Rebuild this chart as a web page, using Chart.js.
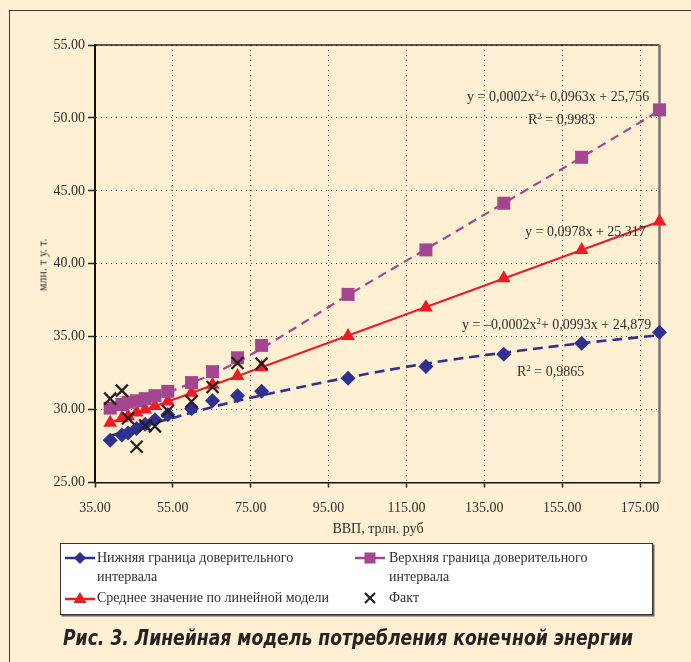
<!DOCTYPE html>
<html lang="ru">
<head>
<meta charset="utf-8">
<title>Линейная модель потребления конечной энергии</title>
<script src="https://cdn.jsdelivr.net/npm/chart.js@4.4.1/dist/chart.umd.min.js"></script>
<style>
    html, body { margin: 0; padding: 0; background: #FFF0D4; }
    #wrap { position: relative; width: 691px; height: 662px; overflow: hidden; background: #FFF0D4; }
    #chart { position: absolute; left: 0; top: 0; }
    .frame-top { position: absolute; left: 9px; top: 10px; width: 682px; border-top: 1.5px solid #3a3a3a; }
    .frame-left { position: absolute; left: 9px; top: 10px; height: 652px; border-left: 1.5px solid #3a3a3a; }
    .txt { position: absolute; white-space: nowrap; font-family: "Liberation Serif", "DejaVu Serif", serif; color: #2f2f2f; }
    .eq { font-size: 14px; line-height: 16px; }
    .eq sup { font-size: 9px; line-height: 0; vertical-align: 5px; }
    .legend-box { position: absolute; left: 60px; top: 543px; width: 591px; height: 70px; background: #fff; border: 1.5px solid #333; box-shadow: 1.5px 1.5px 0 #666; }
    .leg-txt { font-size: 14px; line-height: 19px; }
    .leg-mark { position: absolute; }
    .caption { position: absolute; left: 63px; top: 626px; white-space: nowrap; font: italic bold 21px "Liberation Sans Narrow", "DejaVu Sans Condensed", "Liberation Sans", sans-serif; color: #262222; transform-origin: left top; }
</style>
</head>
<body>
<div id="wrap">
    <canvas id="chart" width="691" height="662"></canvas>
    <div class="frame-top"></div>
    <div class="frame-left"></div>

    <div class="txt" style="left:43px;top:265px;font-size:12px;transform:translate(-50%,-50%) rotate(-90deg);">млн. т у. т.</div>
    <div class="txt" style="left:378px;top:529px;font-size:14px;transform:translate(-50%,-50%);">ВВП, трлн. руб</div>

    <div class="txt eq" style="left:467px;top:89px;">y = 0,0002x<sup>2</sup>+ 0,0963x + 25,756</div>
    <div class="txt eq" style="left:528px;top:112px;">R<sup>2</sup> = 0,9983</div>
    <div class="txt eq" style="left:525px;top:224px;">y = 0,0978x + 25,317</div>
    <div class="txt eq" style="left:462px;top:317px;">y = –0,0002x<sup>2</sup>+ 0,0993x + 24,879</div>
    <div class="txt eq" style="left:517px;top:364px;">R<sup>2</sup> = 0,9865</div>

    <div class="legend-box"></div>
    <svg class="leg-mark" style="left:65px;top:549px;" width="30" height="18">
        <line x1="0" y1="9" x2="30" y2="9" stroke="#2E3192" stroke-width="2.5"/>
        <polygon points="15,3 21,9 15,15 9,9" fill="#2E3192"/>
    </svg>
    <div class="txt leg-txt" style="left:97px;top:548px;">Нижняя граница доверительного<br>интервала</div>
    <svg class="leg-mark" style="left:355px;top:549px;" width="30" height="18">
        <line x1="0" y1="9" x2="30" y2="9" stroke="#A3468F" stroke-width="2.5"/>
        <rect x="9.5" y="3.5" width="11" height="11" fill="#A3468F"/>
    </svg>
    <div class="txt leg-txt" style="left:389px;top:548px;">Верхняя граница доверительного<br>интервала</div>
    <svg class="leg-mark" style="left:65px;top:589px;" width="30" height="18">
        <line x1="0" y1="10" x2="30" y2="10" stroke="#ED1C24" stroke-width="2.5"/>
        <polygon points="15,3 21.5,14 8.5,14" fill="#ED1C24"/>
    </svg>
    <div class="txt leg-txt" style="left:97px;top:588px;">Среднее значение по линейной модели</div>
    <svg class="leg-mark" style="left:355px;top:589px;" width="30" height="18">
        <line x1="10" y1="4" x2="20" y2="14" stroke="#231F20" stroke-width="2.2"/>
        <line x1="20" y1="4" x2="10" y2="14" stroke="#231F20" stroke-width="2.2"/>
    </svg>
    <div class="txt leg-txt" style="left:389px;top:588px;">Факт</div>

    <div class="caption" id="caption">Рис. 3. Линейная модель потребления конечной энергии</div>
</div>

<script>
/* ---- данные ---- */
var gdp = [38.9, 41.9, 43.5, 45.7, 47.9, 50.4, 53.7, 59.8, 65.2, 71.6, 77.8, 100, 120, 140, 160, 180];
var lowerBound = [27.9, 28.25, 28.4, 28.7, 29.0, 29.3, 29.65, 30.05, 30.6, 30.95, 31.25, 32.15, 32.95, 33.8, 34.55, 35.3];
var upperBound = [30.1, 30.35, 30.5, 30.6, 30.75, 30.95, 31.25, 31.85, 32.6, 33.55, 34.4, 37.9, 40.95, 44.15, 47.3, 50.55];
var meanModel = [29.1, 29.4, 29.55, 29.8, 30.0, 30.25, 30.55, 31.15, 31.7, 32.3, 32.9, 35.05, 37.0, 39.0, 40.95, 42.9];
var factValues = [30.75, 31.3, 29.4, 27.45, 28.9, 28.85, 29.9, 30.55, 31.55, 33.2, 33.15];

/* ---- линии тренда (положение пунктиров на рисунке) ---- */
var trendGdp = [38.9, 50, 60, 70, 80, 100, 120, 140, 160, 180];
var lowerTrend = [28.2, 29.05, 29.8, 30.5, 31.1, 32.2, 33.15, 33.9, 34.55, 35.1];
var upperTrend = [30.1, 30.85, 31.85, 33.05, 34.55, 37.85, 41.0, 44.15, 47.3, 50.5];
var meanTrendGdp = [38.9, 180];
var meanTrend = [29.1, 42.9];

var xTicks = [35, 55, 75, 95, 115, 135, 155, 175];
var yTicks = [25, 30, 35, 40, 45, 50, 55];

(function() {
    'use strict';

    function toPoints(xs, ys) {
        return ys.map(function(v, i) { return { x: xs[i], y: v }; });
    }

    var serifFont = { family: '"Liberation Serif", "DejaVu Serif", serif', size: 14 };

    /* ---- рамка области построения (верх и право) ---- */
    var plotFrame = {
        id: 'plotFrame',
        beforeDatasetsDraw: function(chart) {
            var a = chart.chartArea, ctx = chart.ctx;
            ctx.save();
            ctx.strokeStyle = '#222';
            ctx.lineWidth = 1.5;
            ctx.beginPath();
            ctx.moveTo(a.left, a.top);
            ctx.lineTo(a.right, a.top);
            ctx.stroke();
            ctx.strokeStyle = '#777';
            ctx.lineWidth = 2.5;
            ctx.beginPath();
            ctx.moveTo(a.right, a.top);
            ctx.lineTo(a.right, a.bottom);
            ctx.stroke();
            ctx.restore();
        }
    };

    new Chart(document.getElementById('chart'), {
        type: 'scatter',
        data: {
            datasets: [
                {
                    label: 'Нижняя граница доверительного интервала',
                    data: toPoints(gdp, lowerBound),
                    pointStyle: 'rectRot',
                    pointRadius: 7.5,
                    backgroundColor: '#2E3192',
                    borderColor: '#2E3192',
                    borderWidth: 0,
                    clip: false,
                    order: 1
                },
                {
                    label: 'Верхняя граница доверительного интервала',
                    data: toPoints(gdp, upperBound),
                    pointStyle: 'rect',
                    pointRadius: 9.2,
                    backgroundColor: '#A3468F',
                    borderColor: '#A3468F',
                    borderWidth: 0,
                    clip: false,
                    order: 1
                },
                {
                    label: 'Среднее значение по линейной модели',
                    data: toPoints(gdp, meanModel),
                    pointStyle: 'triangle',
                    pointRadius: 8,
                    backgroundColor: '#ED1C24',
                    borderColor: '#ED1C24',
                    borderWidth: 0,
                    clip: false,
                    order: 1
                },
                {
                    label: 'Факт',
                    data: toPoints(gdp, factValues),
                    pointStyle: 'crossRot',
                    pointRadius: 8.5,
                    borderColor: '#231F20',
                    borderWidth: 2.2,
                    clip: false,
                    order: 0
                },
                {
                    label: 'Тренд нижней границы',
                    data: toPoints(trendGdp, lowerTrend),
                    showLine: true,
                    tension: 0.4,
                    pointRadius: 0,
                    borderColor: '#2E3192',
                    borderWidth: 2.6,
                    borderDash: [10, 6],
                    clip: false,
                    order: 2
                },
                {
                    label: 'Тренд верхней границы',
                    data: toPoints(trendGdp, upperTrend),
                    showLine: true,
                    tension: 0.4,
                    pointRadius: 0,
                    borderColor: '#A3468F',
                    borderWidth: 2.2,
                    borderDash: [9, 6],
                    clip: false,
                    order: 2
                },
                {
                    label: 'Линейный тренд',
                    data: toPoints(meanTrendGdp, meanTrend),
                    showLine: true,
                    pointRadius: 0,
                    borderColor: '#ED1C24',
                    borderWidth: 2,
                    clip: false,
                    order: 2
                }
            ]
        },
        options: {
            responsive: false,
            animation: false,
            layout: { padding: { top: 45, right: 31.5, left: 0, bottom: 0 } },
            plugins: {
                legend: { display: false },
                tooltip: { enabled: false }
            },
            scales: {
                x: {
                    type: 'linear',
                    min: 35,
                    max: 180,
                    afterBuildTicks: function(axis) {
                        axis.ticks = xTicks.map(function(v) { return { value: v }; });
                    },
                    afterFit: function(axis) { axis.height = 662 - 482.5; },
                    ticks: {
                        font: serifFont,
                        color: '#2f2f2f',
                        padding: 12,
                        maxRotation: 0,
                        callback: function(v) { return Number(v).toFixed(2); }
                    },
                    grid: {
                        color: '#4a4a4a',
                        lineWidth: 1,
                        tickLength: 5,
                        tickColor: '#222',
                        tickWidth: 1.5
                    },
                    border: { color: '#111', width: 1.5, dash: [1, 4] }
                },
                y: {
                    type: 'linear',
                    min: 25,
                    max: 55,
                    afterBuildTicks: function(axis) {
                        axis.ticks = yTicks.map(function(v) { return { value: v }; });
                    },
                    afterFit: function(axis) { axis.width = 95; },
                    ticks: {
                        font: serifFont,
                        color: '#2f2f2f',
                        padding: 3,
                        callback: function(v) { return Number(v).toFixed(2); }
                    },
                    grid: {
                        color: '#4a4a4a',
                        lineWidth: 1,
                        tickLength: 7,
                        tickColor: '#222',
                        tickWidth: 1.5
                    },
                    border: { color: '#111', width: 2, dash: [1, 4] }
                }
            }
        },
        plugins: [plotFrame]
    });

    /* ---- подпись рисунка: подгонка ширины ---- */
    var cap = document.getElementById('caption');
    var w = cap.getBoundingClientRect().width;
    if (w > 0) cap.style.transform = 'scaleX(' + (570 / w) + ')';
})();
</script>
</body>
</html>
